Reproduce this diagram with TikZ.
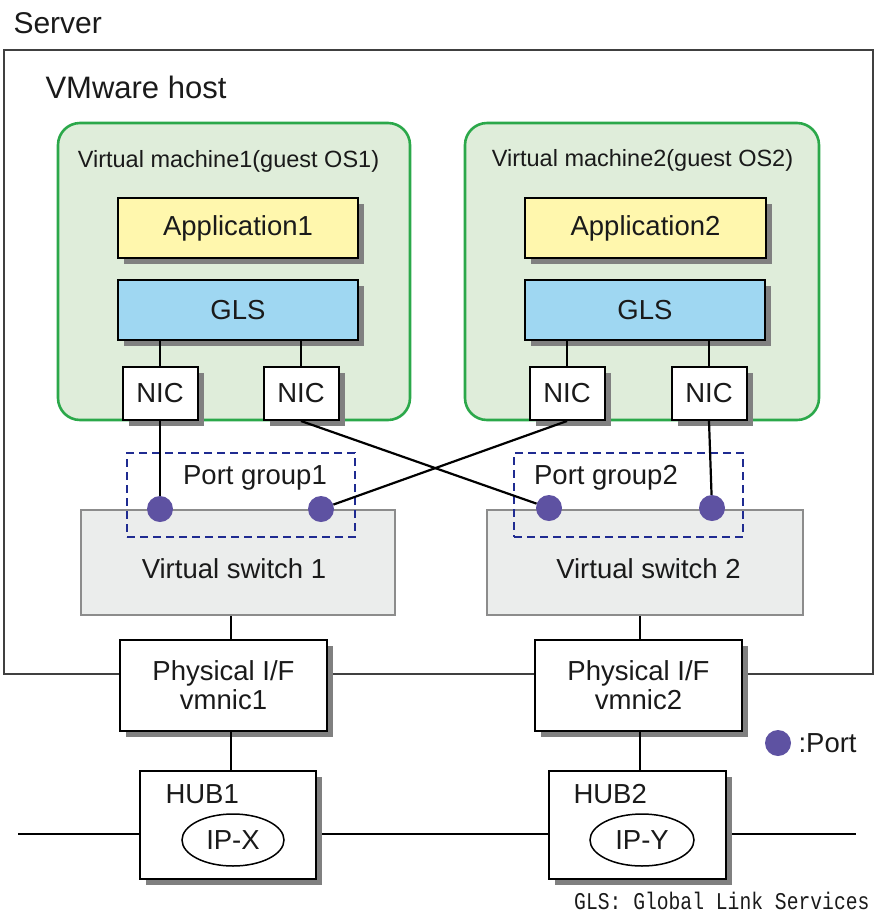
\documentclass[tikz,border=0pt]{standalone}
\usepackage{fontspec}
\setmainfont{Liberation Sans}
\newfontfamily\glsfont[FakeStretch=0.82]{Liberation Mono}
\usetikzlibrary{shapes.geometric,backgrounds}

\definecolor{vmline}{HTML}{2BA84A}
\definecolor{vmfill}{HTML}{DFEDDA}
\definecolor{appfill}{HTML}{FFF7AD}
\definecolor{glsfill}{HTML}{9FD7F2}
\definecolor{swfill}{HTML}{EBEDEC}
\definecolor{portcol}{HTML}{5E52A2}
\definecolor{pgline}{HTML}{1F2B91}
\definecolor{txt}{HTML}{1A1A1A}

\tikzset{
  box/.style={draw=black, line width=2pt, inner sep=0pt,
    preaction={draw=none, fill=black!50, transform canvas={xshift=6pt,yshift=-6pt}}},
  vmbox/.style={draw=vmline, fill=vmfill, line width=2.6pt, rounded corners=22pt, inner sep=0pt},
  swbox/.style={draw=black!45, fill=swfill, line width=1.6pt, inner sep=0pt},
  pgbox/.style={draw=pgline, dash pattern=on 8pt off 5pt, line width=2.8pt, inner sep=0pt},
  port/.style={circle, fill=portcol, minimum size=26pt, inner sep=0pt},
  link/.style={line width=2.2pt, black},
}

\begin{document}
\begin{tikzpicture}[x=1pt,y=-1pt,
  every node/.style={text=txt, font=\fontsize{27.5}{29}\selectfont}]
\useasboundingbox (0,0) rectangle (875,914);

% server and VMware host
\node[anchor=base west, font=\fontsize{30}{32}\selectfont] (srvlbl) at (10,33) {Server};
\node[anchor=base west, font=\fontsize{31}{33}\selectfont] (hostlbl) at (42,98) {VMware host};

% virtual machines
\node[vmbox, minimum width=352, minimum height=297] (vm1) at (234,271.5) {};
\node[vmbox, minimum width=354, minimum height=297] (vm2) at (642,271.5) {};
\node[anchor=base, font=\fontsize{23.5}{26}\selectfont] (vm1lbl) at (228.5,167) {Virtual machine1(guest OS1)};
\node[anchor=base, font=\fontsize{23.5}{26}\selectfont] (vm2lbl) at (642.5,166) {Virtual machine2(guest OS2)};

\node[box, fill=appfill, minimum width=240, minimum height=60] (app1) at (238,228) {Application1};
\node[box, fill=appfill, minimum width=241, minimum height=60] (app2) at (645.5,228) {Application2};
\node[box, fill=glsfill, minimum width=240, minimum height=60] (gls1) at (238,310) {GLS};
\node[box, fill=glsfill, minimum width=240, minimum height=60] (gls2) at (645,310) {GLS};

\node[box, fill=white, minimum width=75, minimum height=53] (nic1a) at (160,393.5) {NIC};
\node[box, fill=white, minimum width=75, minimum height=53] (nic1b) at (301,393.5) {NIC};
\node[box, fill=white, minimum width=75, minimum height=53] (nic2a) at (567,393.5) {NIC};
\node[box, fill=white, minimum width=75, minimum height=53] (nic2b) at (709,393.5) {NIC};

\draw[link] (gls1.south -| nic1a) -- (nic1a.north);
\draw[link] (gls1.south -| nic1b) -- (nic1b.north);
\draw[link] (gls2.south -| nic2a) -- (nic2a.north);
\draw[link] (gls2.south -| nic2b) -- (nic2b.north);

% virtual switches and port groups
\node[swbox, minimum width=314, minimum height=105] (vs1) at (238,562.5) {};
\node[swbox, minimum width=316, minimum height=105] (vs2) at (645,562.5) {};
\node[anchor=base] (vs1lbl) at (234,578) {Virtual switch 1};
\node[anchor=base] (vs2lbl) at (648.5,578) {Virtual switch 2};

\node[pgbox, minimum width=228, minimum height=84] (pg1) at (241,495) {};
\node[pgbox, minimum width=229, minimum height=84] (pg2) at (628.5,495) {};
\node[anchor=base] (pg1lbl) at (255,484) {Port group1};
\node[anchor=base] (pg2lbl) at (606,484) {Port group2};

\node[port] (p1a) at (160,509) {};
\node[port] (p1b) at (321,509) {};
\node[port] (p2a) at (549,508) {};
\node[port] (p2b) at (712,508) {};

\draw[link] (nic1a.south) -- (p1a);
\draw[link] (nic1b.south) -- (p2a);
\draw[link] (nic2a.south) -- (p1b);
\draw[link] (nic2b.south) -- (p2b);

% physical interfaces and hubs
\node[box, fill=white, align=center, minimum width=207, minimum height=91] (pif1) at (223.5,685.5) {Physical I/F\\vmnic1};
\node[box, fill=white, align=center, minimum width=207, minimum height=91] (pif2) at (638.5,685.5) {Physical I/F\\vmnic2};
\node[box, fill=white, minimum width=176, minimum height=108] (hub1) at (228,825) {};
\node[box, fill=white, minimum width=177, minimum height=108] (hub2) at (637.5,825) {};
\node[anchor=base west] (hub1lbl) at (162,803) {HUB1};
\node[anchor=base west] (hub2lbl) at (570,803) {HUB2};
\node[ellipse, draw, line width=1.5pt, inner sep=0pt, minimum width=102, minimum height=52] (ipx) at (233,840) {IP-X};
\node[ellipse, draw, line width=1.5pt, inner sep=0pt, minimum width=104, minimum height=52] (ipy) at (642,840) {IP-Y};

\draw[link] ([xshift=7.5]pif1.north) -- ([xshift=7.5]pif1.north |- vs1.south);
\draw[link] ([xshift=1.5]pif2.north) -- ([xshift=1.5]pif2.north |- vs2.south);
\draw[link] ([xshift=7.5]pif1.south) -- ([xshift=7.5]pif1.south |- hub1.north);
\draw[link] ([xshift=1.5]pif2.south) -- ([xshift=1.5]pif2.south |- hub2.north);

\coordinate (netL) at (18,834);
\coordinate (netR) at (856,834);
\begin{scope}[on background layer]
\draw[black!75, line width=1.8pt] (4,50) rectangle (873,674);
\draw[link] (netL) -- (netR);
\end{scope}

% legend
\node[port] (legport) at (778,743) {};
\node[anchor=base west] (legtxt) at (795,752) {:Port};
\node[anchor=base east, font=\glsfont\fontsize{24}{26}\selectfont] (glsnote) at (873,909) {GLS: Global Link Services};
\end{tikzpicture}
\end{document}
